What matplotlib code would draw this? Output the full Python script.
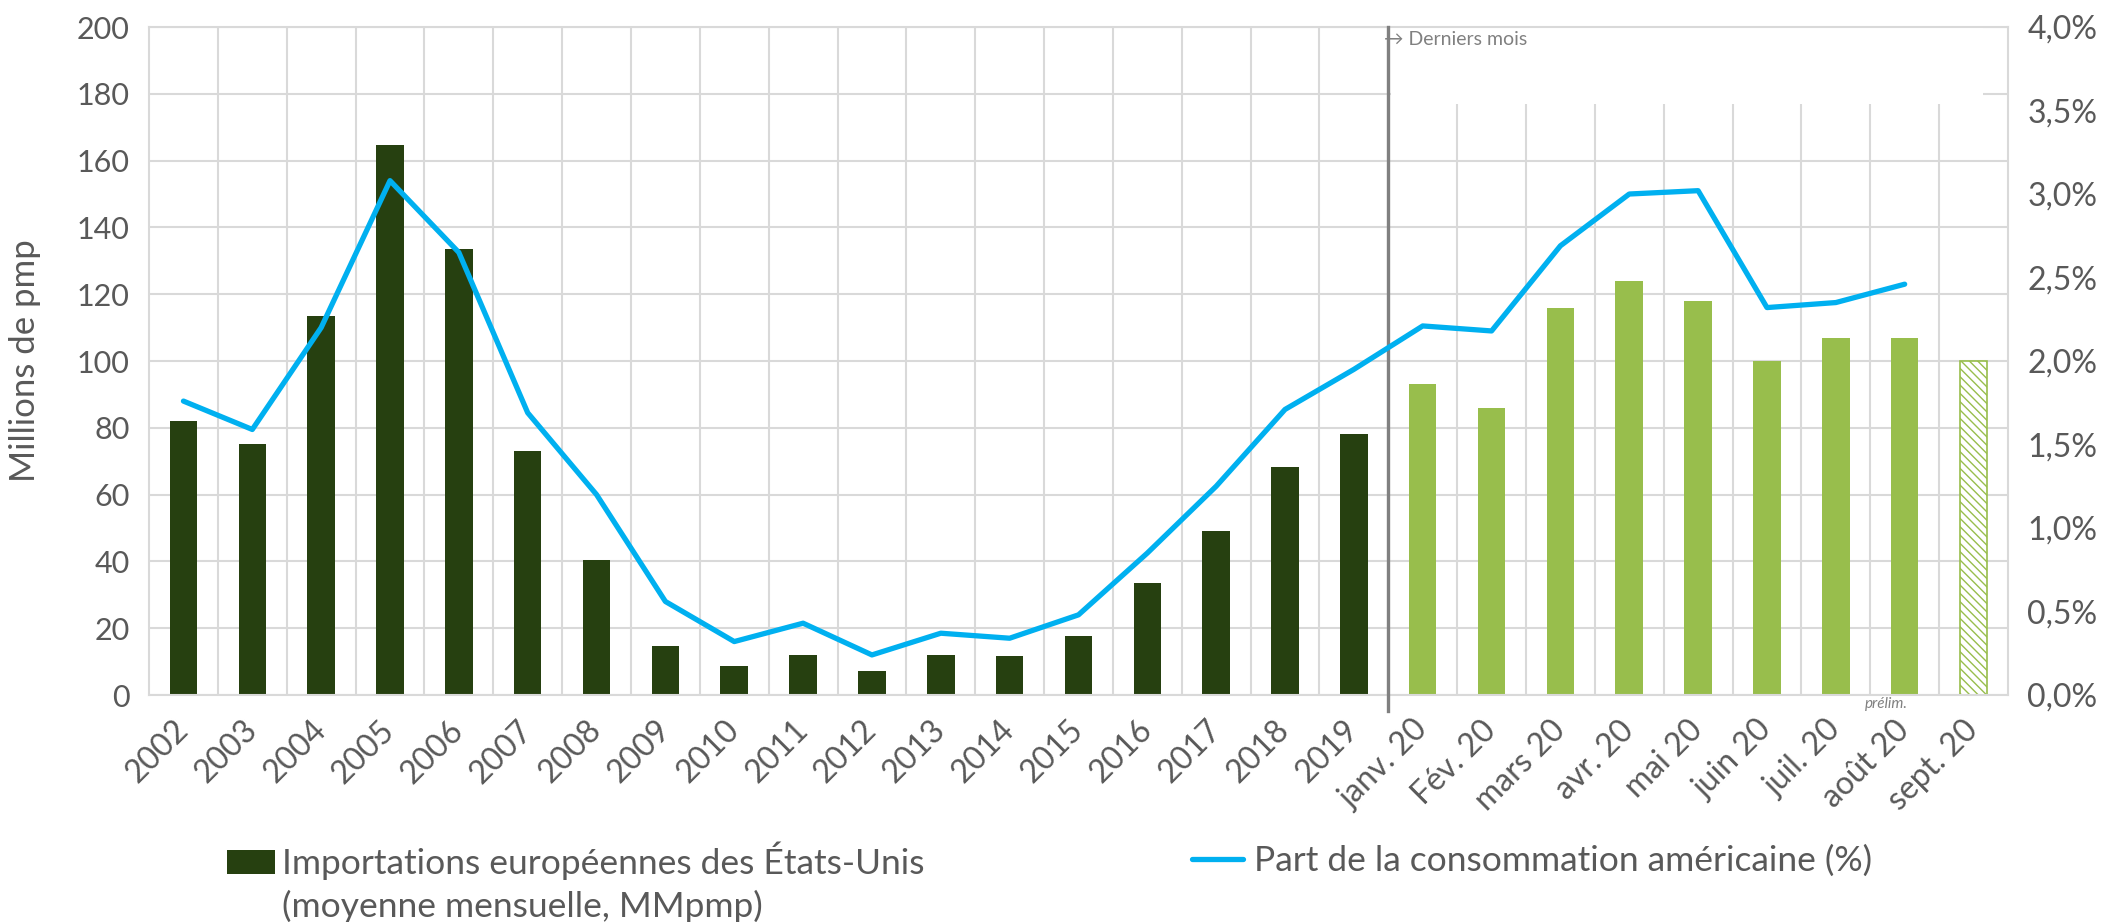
import numpy as np
import matplotlib.pyplot as plt
from matplotlib.patches import Rectangle, Patch
from matplotlib.lines import Line2D
from matplotlib.ticker import FuncFormatter, MultipleLocator
import matplotlib.transforms as mtransforms

plt.rcParams['font.family'] = ['Lato', 'DejaVu Sans']

categories = ['2002', '2003', '2004', '2005', '2006', '2007', '2008', '2009', '2010',
              '2011', '2012', '2013', '2014', '2015', '2016', '2017', '2018', '2019',
              'janv. 20', 'Fév. 20', 'mars 20', 'avr. 20', 'mai 20', 'juin 20',
              'juil. 20', 'août 20', 'sept. 20']
imports = [82.0, 75.2, 113.5, 164.8, 133.4, 73.2, 40.5, 14.6, 8.6,
           12.1, 7.2, 12.0, 11.7, 17.6, 33.5, 49.2, 68.2, 78.2,
           93.1, 85.9, 116.0, 124.0, 118.1, 99.9, 107.0, 107.0, 100.0]
share = [1.76, 1.59, 2.20, 3.08, 2.65, 1.69, 1.20, 0.56, 0.32,
         0.43, 0.24, 0.37, 0.34, 0.48, 0.85, 1.25, 1.71, 1.95,
         2.21, 2.18, 2.69, 3.00, 3.02, 2.32, 2.35, 2.46, np.nan]
n_years = 18
n_prelim = 1

dark = '#264010'
light = '#98BE4C'
blue = '#00B0F0'
txt = '#595959'
grid = '#D9D9D9'

fig = plt.figure(figsize=(21.23, 9.22), dpi=100)
ax = fig.add_axes([0.0702, 0.2462, 0.8756, 0.7245])

x = np.arange(len(categories))
colors = [dark] * n_years + [light] * (len(categories) - n_years)
n_solid = len(categories) - n_prelim
ax.bar(x[:n_solid], imports[:n_solid], width=0.4, color=colors[:n_solid], zorder=2)
ax.bar(x[n_solid:], imports[n_solid:], width=0.4, facecolor='white', edgecolor=light,
       hatch='\\\\\\\\', linewidth=1.2, zorder=2)

ax.set_xlim(-0.5, len(categories) - 0.5)
ax.set_ylim(0, 200)
ax.yaxis.set_major_locator(MultipleLocator(20))
ax.set_xticks(x)
ax.set_xticklabels(categories, rotation=45, ha='right', va='center', rotation_mode='anchor')
ax.set_xticks(np.arange(0.5, len(categories) - 1, 1), minor=True)
ax.set_axisbelow(True)
ax.grid(axis='y', which='major', color=grid, lw=1.5)
ax.grid(axis='x', which='minor', color=grid, lw=1.5)
ax.tick_params(axis='both', which='both', length=0, labelsize=22, labelcolor=txt)
ax.tick_params(axis='y', pad=14)
ax.tick_params(axis='x', pad=22, labelsize=23)
for s in ax.spines.values():
    s.set_color(grid)
    s.set_linewidth(1.5)
ax.set_ylabel('Millions de pmp', fontsize=25, color=txt)
ax.yaxis.set_label_coords(-0.058, 0.5)

# white box behind the "Derniers mois" note
ax.add_patch(Rectangle((0.668, 0.885), 0.3186, 0.115, transform=ax.transAxes,
                       facecolor='white', edgecolor='none', zorder=1))

ax2 = ax.twinx()
ax2.plot(x, share, color=blue, lw=3.8, solid_joinstyle='round', solid_capstyle='round', zorder=3)
ax2.set_ylim(0, 4)
ax2.yaxis.set_major_locator(MultipleLocator(0.5))
ax2.yaxis.set_major_formatter(FuncFormatter(lambda v, p: f'{v:.1f}%'.replace('.', ',')))
ax2.tick_params(axis='y', length=0, labelsize=23, labelcolor=txt, pad=14)
for s in ax2.spines.values():
    s.set_visible(False)

trans = mtransforms.blended_transform_factory(ax.transData, ax.transAxes)
ax.plot([n_years - 0.5, n_years - 0.5], [-0.024, 1.0], transform=trans, color='#808080',
        lw=2.4, clip_on=False, zorder=5)
ax.text(n_years - 0.56, 0.982, '→ Derniers mois', transform=trans, fontsize=14,
        color='#808080', va='center', ha='left')
ax.text(len(categories) - 2.27, -0.014, 'prélim.', transform=trans, fontsize=11,
        style='italic', color='#808080', va='center', ha='center')

fs = 25.5
fs_px = fs * 100 / 72
leg1 = fig.legend(handles=[Patch(facecolor=dark, edgecolor='none')],
                  labels=['Importations européennes des États-Unis'],
                  loc='center left', bbox_to_anchor=(227 / 2123, 1 - 861 / 922),
                  frameon=False, fontsize=fs, borderpad=0, borderaxespad=0,
                  handlelength=48 / fs_px, handleheight=24 / fs_px, handletextpad=0.2,
                  labelcolor=txt)
fig.text(282 / 2123, 1 - 906 / 922, '(moyenne mensuelle, MMpmp)', fontsize=fs,
         color=txt, va='center', ha='left')
leg2 = fig.legend(handles=[Line2D([], [], color=blue, lw=3.8, solid_capstyle='round')],
                  labels=['Part de la consommation américaine (%)'],
                  loc='center left', bbox_to_anchor=(1192 / 2123, 1 - 861 / 922),
                  frameon=False, fontsize=fs, borderpad=0, borderaxespad=0,
                  handlelength=51 / fs_px, handletextpad=0.3, labelcolor=txt)

fig.savefig('out.png', dpi=100)
